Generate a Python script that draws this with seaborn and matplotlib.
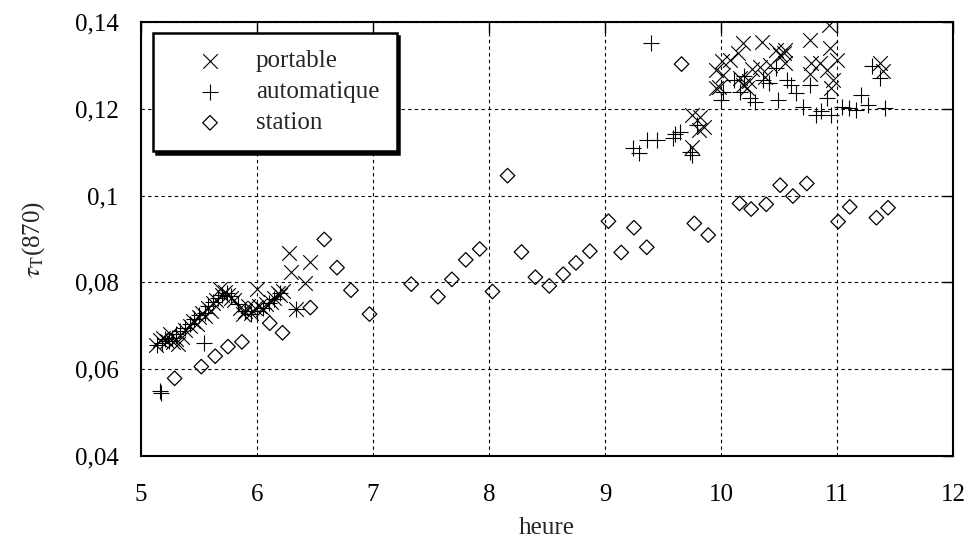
import pandas as pd
import numpy as np
import matplotlib
matplotlib.use('Agg')
import matplotlib.pyplot as plt
import seaborn as sns
from matplotlib.ticker import FuncFormatter

# heure / tau_T(870)
portable_h = [5.13, 5.16, 5.19, 5.22, 5.25, 5.28, 5.30, 5.32, 5.35, 5.38, 5.42, 5.45, 5.48, 5.50,
              5.53, 5.55, 5.58, 5.60, 5.62, 5.65, 5.68, 5.70, 5.72, 5.75, 5.78, 5.80, 5.85, 5.88,
              5.90, 5.92, 5.95, 5.98, 6.00, 6.02, 6.05, 6.08, 6.12, 6.15, 6.18, 6.20, 6.22, 6.28,
              6.29, 6.34, 6.41, 6.46,
              9.75, 9.75, 9.82, 9.85, 9.81, 9.96, 9.96, 9.98, 10.01, 10.02, 10.08, 10.15, 10.16,
              10.19, 10.19, 10.22, 10.24, 10.27, 10.34, 10.35, 10.38, 10.42, 10.47, 10.51, 10.55,
              10.54, 10.55, 10.77, 10.78, 10.77, 10.85, 10.91, 10.93, 10.94, 10.97, 10.95, 11.00,
              11.37, 11.40]
portable_tau = [0.0655, 0.0668, 0.0672, 0.0665, 0.0680, 0.0662, 0.0670, 0.0658, 0.0675, 0.0690,
                0.0700, 0.0712, 0.0705, 0.0720, 0.0730, 0.0722, 0.0740, 0.0735, 0.0752, 0.0760,
                0.0785, 0.0770, 0.0778, 0.0772, 0.0765, 0.0760, 0.0740, 0.0728, 0.0735, 0.0745,
                0.0730, 0.0740, 0.0785, 0.0745, 0.0738, 0.0750, 0.0755, 0.0765, 0.0775, 0.0770,
                0.0780, 0.0867, 0.0825, 0.0738, 0.0798, 0.0848,
                0.1113, 0.1186, 0.1182, 0.1159, 0.1151, 0.1289, 0.1247, 0.1250, 0.1309, 0.1278,
                0.1312, 0.1328, 0.1271, 0.1351, 0.1255, 0.1247, 0.1265, 0.1292, 0.1297, 0.1355,
                0.1274, 0.1300, 0.1335, 0.1324, 0.1335, 0.1328, 0.1305, 0.1359, 0.1305, 0.1280,
                0.1305, 0.1289, 0.1393, 0.1340, 0.1266, 0.1247, 0.1313, 0.1305, 0.1286]

auto_h = [5.14, 5.16, 5.17, 5.18, 5.21, 5.24, 5.27, 5.30, 5.34, 5.38, 5.42, 5.46, 5.50, 5.54,
          5.55, 5.58, 5.62, 5.66, 5.70, 5.74, 5.78, 5.84, 5.90, 5.95, 6.00, 6.05, 6.10, 6.15,
          6.20, 6.34,
          9.24, 9.29, 9.36, 9.40, 9.45, 9.59, 9.60, 9.65, 9.73, 9.75, 9.79, 10.00, 10.02, 10.11,
          10.16, 10.20, 10.25, 10.29, 10.36, 10.41, 10.47, 10.49, 10.57, 10.60, 10.65, 10.71,
          10.77, 10.82, 10.86, 10.91, 10.95, 11.04, 11.10, 11.16, 11.21, 11.27, 11.30, 11.37,
          11.41]
auto_tau = [0.0655, 0.0550, 0.0545, 0.0660, 0.0670, 0.0665, 0.0672, 0.0680, 0.0688, 0.0695,
            0.0705, 0.0715, 0.0725, 0.0660, 0.0730, 0.0745, 0.0755, 0.0765, 0.0772, 0.0775,
            0.0768, 0.0750, 0.0735, 0.0728, 0.0735, 0.0740, 0.0752, 0.0762, 0.0775, 0.0738,
            0.1109, 0.1097, 0.1128, 0.1352, 0.1128, 0.1132, 0.1143, 0.1147, 0.1101, 0.1094,
            0.1163, 0.1220, 0.1239, 0.1266, 0.1239, 0.1275, 0.1224, 0.1216, 0.1266, 0.1259,
            0.1293, 0.1220, 0.1266, 0.1255, 0.1236, 0.1205, 0.1255, 0.1186, 0.1195, 0.1224,
            0.1186, 0.1205, 0.1201, 0.1197, 0.1232, 0.1209, 0.1298, 0.1270, 0.1201]

station_h = [5.29, 5.52, 5.64, 5.75, 5.87, 6.11, 6.22, 6.46, 6.58, 6.69, 6.81, 6.97, 7.33,
             7.56, 7.68, 7.80, 7.92, 8.03, 8.16, 8.28, 8.40, 8.52, 8.64, 8.75, 8.87, 9.03,
             9.14, 9.25, 9.36, 9.66, 9.77, 9.89, 10.16, 10.26, 10.39, 10.51, 10.62, 10.74,
             11.01, 11.11, 11.34, 11.44]
station_tau = [0.0579, 0.0606, 0.0630, 0.0652, 0.0663, 0.0706, 0.0684, 0.0742, 0.0899, 0.0834,
               0.0782, 0.0727, 0.0796, 0.0767, 0.0807, 0.0852, 0.0877, 0.0779, 0.1046, 0.0870,
               0.0812, 0.0792, 0.0819, 0.0845, 0.0872, 0.0941, 0.0869, 0.0926, 0.0881, 0.1303,
               0.0936, 0.0909, 0.0982, 0.0969, 0.0980, 0.1024, 0.0999, 0.1028, 0.0940, 0.0974,
               0.0949, 0.0972]

portable = pd.DataFrame({'heure': portable_h, 'tau': portable_tau})
auto = pd.DataFrame({'heure': auto_h, 'tau': auto_tau})
station = pd.DataFrame({'heure': station_h, 'tau': station_tau})

sns.set_style('white')
plt.rcParams['font.family'] = ['Liberation Serif', 'DejaVu Serif']
plt.rcParams['mathtext.fontset'] = 'stix'

fig = plt.figure(figsize=(9.67, 5.43), dpi=100)
ax = fig.add_axes([0.1458, 0.1602, 0.8397, 0.7993])

sns.scatterplot(data=portable, x='heure', y='tau', marker='x', s=110, color='black',
                linewidth=0.8, label='portable', ax=ax, zorder=3)
sns.scatterplot(data=auto, x='heure', y='tau', marker='+', s=120, color='black',
                linewidth=0.8, label='automatique', ax=ax, zorder=3)
sns.scatterplot(data=station, x='heure', y='tau', marker='D', s=55, facecolor='none',
                edgecolor='black', linewidth=0.9, label='station', ax=ax, zorder=3)

ax.set_xlim(5, 12)
ax.set_ylim(0.04, 0.14)
ax.set_xticks(range(5, 13))
ax.set_yticks([0.04, 0.06, 0.08, 0.10, 0.12, 0.14])
ax.yaxis.set_major_formatter(FuncFormatter(lambda v, p: f'{v:g}'.replace('.', ',')))
ax.grid(True, color='black', linestyle=(0, (3, 3)), linewidth=0.8)
ax.set_axisbelow(True)
ax.tick_params(direction='in', length=8, width=1, top=True, right=True,
               labelsize=18, colors='black')
ax.tick_params(axis='x', pad=20)
ax.tick_params(axis='y', pad=16)
for sp in ax.spines.values():
    sp.set_color('black')
    sp.set_linewidth(1.5)

ax.set_xlabel('heure', fontsize=18, labelpad=8)
ax.set_ylabel(r'$\tau_{\rm T}$(870)', fontsize=18, labelpad=20)

leg = ax.legend(loc='upper left', bbox_to_anchor=(0.0148, 0.975), fontsize=18,
                frameon=True, fancybox=False, edgecolor='black', framealpha=1,
                shadow={'color': 'black', 'alpha': 1}, borderpad=0.68,
                labelspacing=0.34, handletextpad=0.24, borderaxespad=0,
                handlelength=3.2)
leg.get_frame().set_linewidth(1.8)

plt.savefig('out.png', dpi=100)
